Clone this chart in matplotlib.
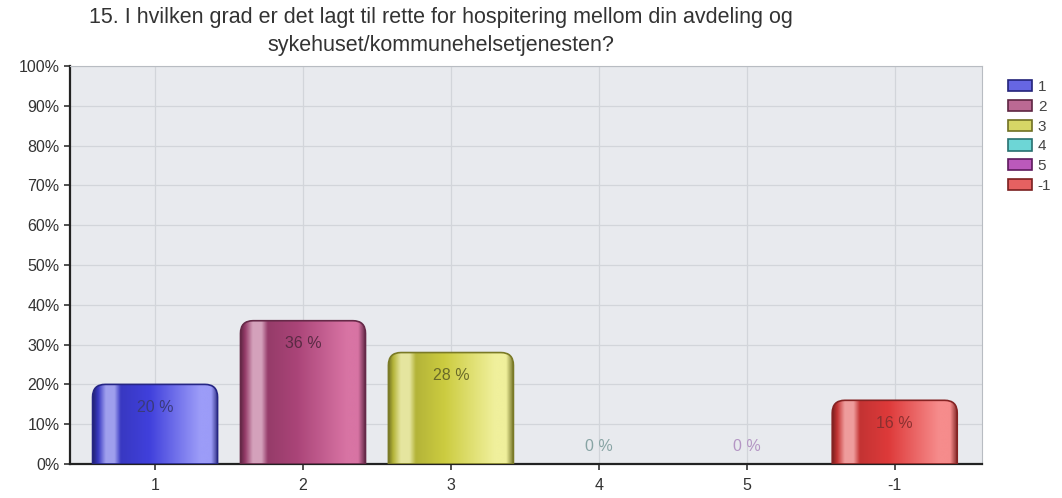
"""Hospitering survey bar chart."""

import matplotlib

matplotlib.use("Agg")
import matplotlib.pyplot as plt
import numpy as np
from matplotlib.colors import LinearSegmentedColormap, to_rgb
from matplotlib.patches import PathPatch, Patch
from matplotlib.path import Path
from matplotlib.ticker import FuncFormatter, MultipleLocator

categories = ["1", "2", "3", "4", "5", "-1"]
percent = [20, 36, 28, 0, 0, 16]
title_lines = [
    "15. I hvilken grad er det lagt til rette for hospitering mellom din avdeling og",
    "sykehuset/kommunehelsetjenesten?",
]

base_colors = ["#4040dc", "#aa4478", "#cccc40", "#48cccc", "#aa30aa", "#de3a3a"]
light_colors = ["#9c9cf8", "#d874a4", "#f0f09c", "#a0f0f0", "#d878d8", "#f68c8c"]
label_colors = ["#3a3a7a", "#5a2a44", "#6a6a28", "#88a4a4", "#b496c4", "#8a3030"]

plt.rcParams["font.family"] = ["Liberation Sans", "DejaVu Sans"]


def _mix(c, other, t):
    c = np.array(to_rgb(c))
    o = np.array(to_rgb(other))
    return tuple(c * (1 - t) + o * t)


def _bar_cmap(color, light):
    dark = _mix(color, "black", 0.45)
    glint = _mix(color, "white", 0.5)
    mid = _mix(color, "black", 0.12)
    stops = [
        (0.0, dark),
        (0.04, mid),
        (0.1, glint),
        (0.17, glint),
        (0.22, mid),
        (0.45, color),
        (0.85, light),
        (0.94, light),
        (1.0, dark),
    ]
    return LinearSegmentedColormap.from_list("bar", stops)


def _rounded_bar(ax, rect, color, light, rx, ry):
    x0, y0 = rect.get_x(), rect.get_y()
    x1, y1 = x0 + rect.get_width(), y0 + rect.get_height()
    if y1 - y0 <= 0:
        return
    ry = min(ry, (y1 - y0))
    verts = [
        (x0, y0), (x0, y1 - ry), (x0, y1), (x0 + rx, y1),
        (x1 - rx, y1), (x1, y1), (x1, y1 - ry), (x1, y0), (x0, y0),
    ]
    codes = [Path.MOVETO, Path.LINETO, Path.CURVE3, Path.CURVE3,
             Path.LINETO, Path.CURVE3, Path.CURVE3, Path.LINETO, Path.CLOSEPOLY]
    path = Path(verts, codes)
    grad = np.linspace(0, 1, 256).reshape(1, -1)
    img = ax.imshow(grad, cmap=_bar_cmap(color, light), extent=(x0, x1, y0, y1),
                    aspect="auto", zorder=3, interpolation="bicubic")
    outline = PathPatch(path, facecolor="none", edgecolor=_mix(color, "black", 0.4),
                        linewidth=1.2, zorder=4)
    ax.add_patch(outline)
    img.set_clip_path(outline)


fig = plt.figure(figsize=(10.62, 4.98), dpi=100)
ax = fig.add_axes([70 / 1062, 34 / 498, 912 / 1062, 398 / 498])
ax.set_facecolor("#e8eaee")

x = np.arange(len(categories))
bars = ax.bar(x, percent, width=0.845, color="none", edgecolor="none", zorder=2)
for rect, color, light in zip(bars, base_colors, light_colors):
    _rounded_bar(ax, rect, color, light, rx=0.085, ry=3.2)

for xi, val, lc in zip(x, percent, label_colors):
    ypos = val - 5.8 if val > 0 else 4.3
    ax.text(xi, ypos, f"{val} %", ha="center", va="center", fontsize=11.5,
            color=lc, zorder=5)

ax.set_xlim(-0.575, 5.59)
ax.set_ylim(0, 100)
ax.set_xticks(x)
ax.set_xticklabels(categories)
ax.yaxis.set_major_locator(MultipleLocator(10))
ax.yaxis.set_major_formatter(FuncFormatter(lambda v, _: f"{v:.0f}%"))
ax.tick_params(axis="both", labelsize=11.5, colors="#333333", length=4, width=1.2,
               direction="out")
ax.tick_params(axis="x", pad=6)
ax.grid(True, color="#d2d5da", linewidth=0.9, zorder=0)
ax.set_axisbelow(True)
for side in ("top", "right"):
    ax.spines[side].set_color("#b8bcc2")
    ax.spines[side].set_linewidth(0.8)
for side in ("left", "bottom"):
    ax.spines[side].set_color("#222222")
    ax.spines[side].set_linewidth(1.6)

for line, ypix in zip(title_lines, (18, 45)):
    fig.text(441 / 1062, 1 - ypix / 498, line, ha="center", va="center",
             fontsize=15.5, color="#333333")

handles = [Patch(facecolor=_mix(c, "white", 0.2), edgecolor=_mix(c, "black", 0.45),
                 linewidth=1.2) for c in base_colors]
leg = fig.legend(handles, categories, loc="upper left",
                 bbox_to_anchor=(1008 / 1062, 1 - 80 / 498), frameon=False,
                 fontsize=11, handlelength=1.6, handleheight=0.75,
                 handletextpad=0.35, labelspacing=0.38, borderaxespad=0,
                 borderpad=0)
for t in leg.get_texts():
    t.set_color("#444444")

fig.savefig("out.png", dpi=100)
